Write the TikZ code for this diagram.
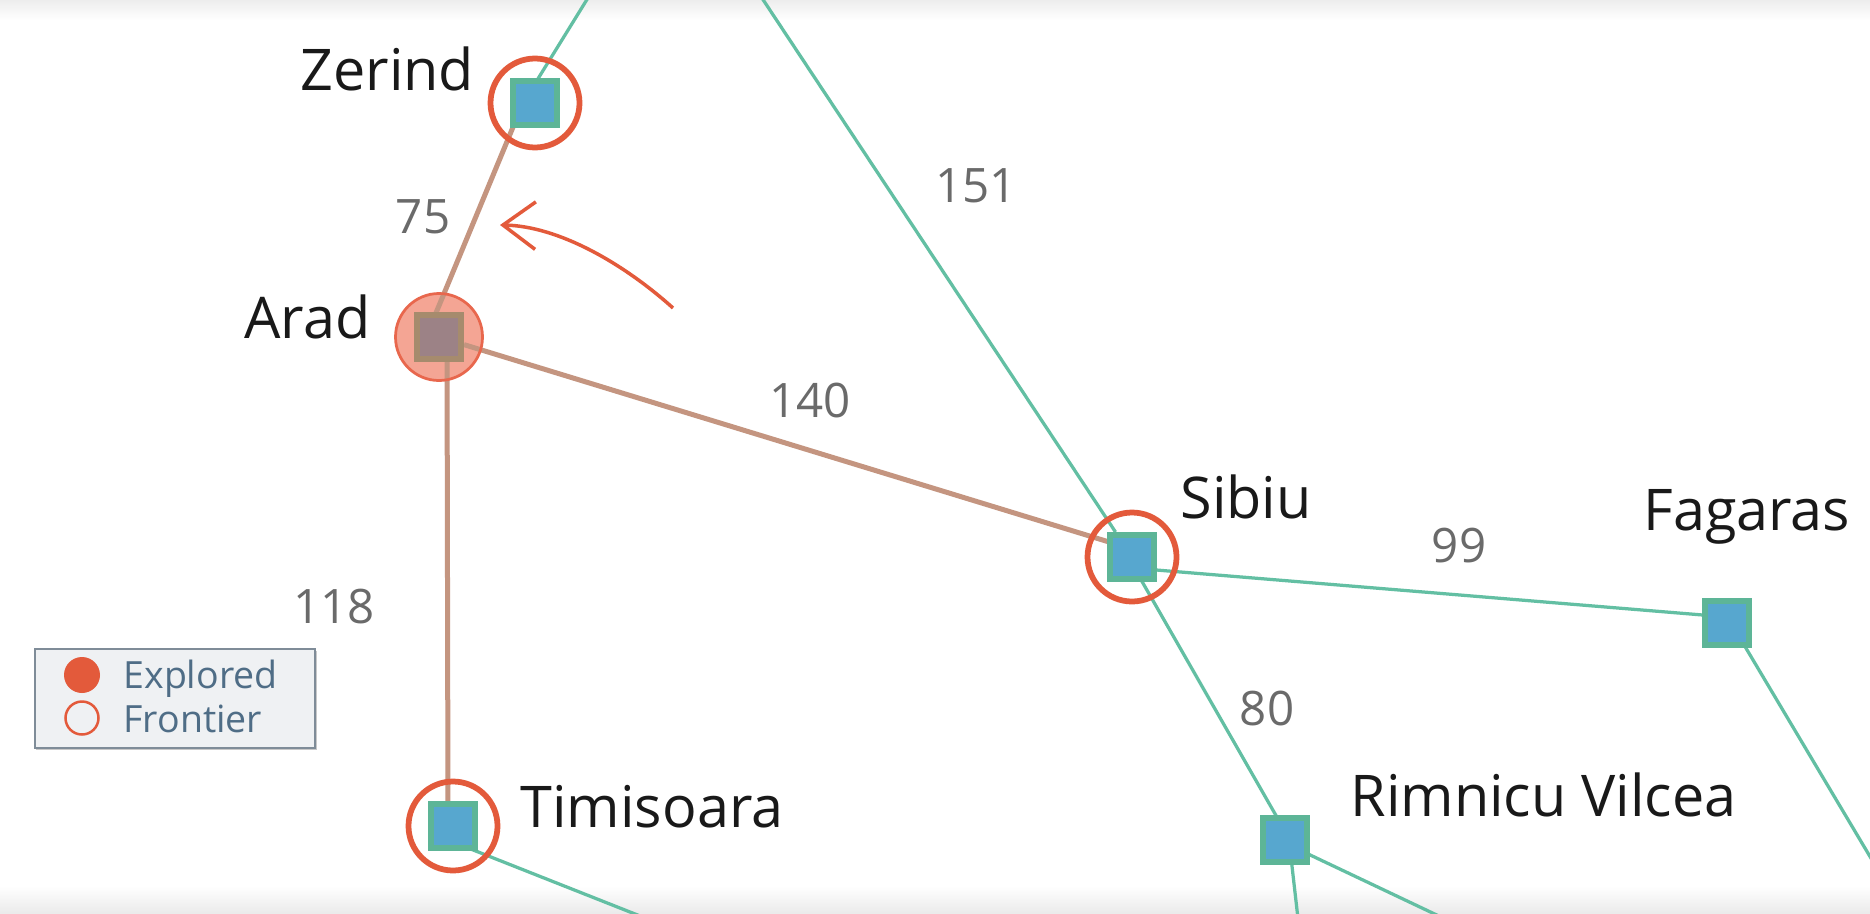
\documentclass[tikz,border=0pt]{standalone}
\usepackage{fontspec}
\setmainfont{Open Sans}
\usetikzlibrary{arrows.meta,calc,shadows}
\definecolor{edgegreen}{HTML}{63BFA3}
\definecolor{sqgreen}{HTML}{5DB597}
\definecolor{sqblue}{HTML}{57A7CF}
\definecolor{frontred}{HTML}{E35A3B}
\definecolor{edgebrown}{HTML}{C49580}
\definecolor{aradfill}{HTML}{F4A594}
\definecolor{aradring}{HTML}{E8674D}
\definecolor{aradsqfill}{HTML}{9C8286}
\definecolor{aradsqline}{HTML}{A68B6D}
\definecolor{labelgray}{HTML}{6A6A6A}
\definecolor{legendtext}{HTML}{4F6D86}
\definecolor{legendline}{HTML}{7F8C98}
\definecolor{legendfill}{HTML}{EFF1F3}
\pgfdeclarelayer{bg}
\pgfdeclarelayer{edges}
\pgfsetlayers{bg,edges,main}
\begin{document}
\begin{tikzpicture}[x=0.4pt,y=-0.4pt,
  citysq/.style={rectangle,draw=sqgreen,fill=sqblue,line width=2.5pt,minimum size=17.5pt,inner sep=0pt},
  aradsq/.style={rectangle,draw=aradsqline,fill=aradsqfill,line width=2.5pt,minimum size=17.5pt,inner sep=0pt},
  greenedge/.style={draw=edgegreen,line width=1.3pt},
  brownedge/.style={draw=edgebrown,line width=2pt},
  frontring/.style={draw=frontred,line width=2.3pt},
  cityname/.style={text=black!90,font=\fontsize{23}{28}\selectfont,inner sep=0pt},
  cost/.style={text=labelgray,font=\fontsize{19}{23}\selectfont,inner sep=0pt,anchor=base},
  legtext/.style={text=legendtext,font=\fontsize{15}{18}\selectfont,inner sep=0pt,anchor=base west}]
\useasboundingbox (0,0) rectangle (1870,913);
\begin{scope}
\clip (0,0) rectangle (1870,913);
\begin{pgfonlayer}{bg}
\fill[white] (0,0) rectangle (1870,913);
\shade[top color=black!7,bottom color=white] (0,0) rectangle (1870,20);
\shade[top color=white,bottom color=black!8] (0,886) rectangle (1870,913);
\end{pgfonlayer}

% city squares
\node[citysq] (zer) at (535,103) {};
\node[aradsq] (ara) at (439,337) {};
\node[citysq] (sib) at (1132,557) {};
\node[citysq] (fag) at (1727,623) {};
\node[citysq] (rim) at (1285,840) {};
\node[citysq] (tim) at (453,826) {};

% free ends of edges leaving the picture
\coordinate (zerOut) at (599,-20);
\coordinate (sibOut) at (750,-20);
\coordinate (fagOut) at (1900,907);
\coordinate (rimOutA) at (1301,945);
\coordinate (rimOutB) at (1500,945);
\coordinate (timOut) at (716,946);

% Arad circle fill (below edges)
\begin{pgfonlayer}{bg}
\fill[aradfill] (ara) circle[radius=17.4pt];
\end{pgfonlayer}

% edges
\begin{pgfonlayer}{edges}
\draw[greenedge] ($(zer)+(-12,0)$) -- (zerOut);
\draw[greenedge] (sib) -- (sibOut);
\draw[greenedge] ($(sib)+(0,11)$) -- ($(fag)+(0,-6)$);
\draw[greenedge] ($(sib)+(-4,0)$) -- ($(rim)+(5,0)$);
\draw[greenedge] ($(fag)+(4,0)$) -- (fagOut);
\draw[greenedge] ($(rim)+(4,0)$) -- (rimOutA);
\draw[greenedge] ($(rim)+(2,4)$) -- (rimOutB);
\draw[greenedge] ($(tim)+(0,16)$) -- (timOut);
\draw[brownedge] ($(ara)+(-13,0)$) -- ($(zer)+(-12,0)$);
\draw[brownedge] (ara) -- ($(sib)+(0,-8)$);
\draw[brownedge] ($(ara)+(8,0)$) -- ($(tim)+(-5,0)$);
\end{pgfonlayer}

% rings
\draw[aradring,line width=1.1pt] (ara) circle[radius=17.4pt];
\draw[frontring] (zer) circle[radius=17.8pt];
\draw[frontring] (sib) circle[radius=17.8pt];
\draw[frontring] (tim) circle[radius=17.8pt];

% redraw squares on top of rings
\node[citysq] at (zer) {};
\node[aradsq] at (ara) {};
\node[citysq] at (sib) {};
\node[citysq] at (tim) {};

% city names
\node[cityname,anchor=base west] (zerL) at (300,90) {Zerind};
\node[cityname,anchor=base east] (araL) at (371,338) {Arad};
\node[cityname,anchor=base west] (sibL) at (1180,518) {Sibiu};
\node[cityname,anchor=base west] (fagL) at (1643,530) {Fagaras};
\node[cityname,anchor=base west] (rimL) at (1350,816) {Rimnicu Vilcea};
\node[cityname,anchor=base west] (timL) at (520,827) {Timisoara};

% costs
\node[cost] (c75) at (423,233) {75};
\node[cost] (c151) at (976,202) {151};
\node[cost] (c140) at (810,417) {140};
\node[cost] (c99) at (1459,562) {99};
\node[cost] (c80) at (1267,725) {80};
\node[cost] (c118) at (334,623) {118};

% curved arrow
\coordinate (arrS) at (673,308);
\coordinate (arrE) at (500,225);
\draw[frontred,line width=1.4pt,-{Straight Barb[length=13pt,width=19pt]}]
  (arrS) .. controls (623,263) and (558,226) .. (arrE);

% legend
\node[rectangle,draw=legendline,fill=legendfill,line width=1pt,
  minimum width=112pt,minimum height=39.6pt,inner sep=0pt,
  drop shadow={shadow xshift=0.6pt,shadow yshift=-0.8pt,opacity=0.3,fill=black!70}]
  (legend) at (175,698.5) {};
\fill[frontred] (82,675) circle[radius=7.2pt];
\draw[frontred,line width=1pt] (82,718) circle[radius=6.6pt];
\node[legtext] (legE) at (123,688) {Explored};
\node[legtext] (legF) at (123,732) {Frontier};
\end{scope}
\end{tikzpicture}
\end{document}
